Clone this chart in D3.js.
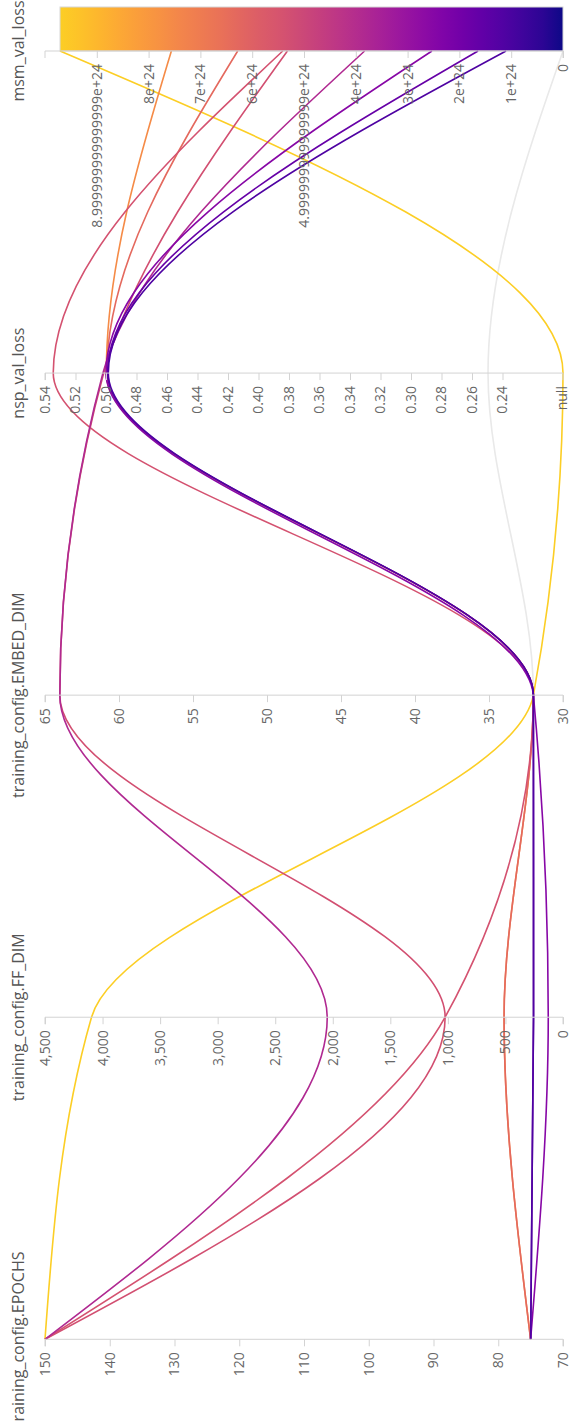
<!DOCTYPE html>
<html>
<head>
<meta charset="utf-8">
<script src="https://cdn.jsdelivr.net/npm/d3@7"></script>
<style>
  body { margin: 0; background: #fff; }
  svg { display: block; }
  text { font-family: "Open Sans", sans-serif; }
</style>
</head>
<body>
<svg id="chart" width="569" height="1421"></svg>
<script>
// Parallel-coordinates view of a hyper-parameter sweep (drawn sideways).
const dimensions = [
  "training_config.EPOCHS",
  "training_config.FF_DIM",
  "training_config.EMBED_DIM",
  "nsp_val_loss",
  "msm_val_loss"
];

// One entry per run, same order in every array (null = metric missing).
const epochs   = [75, 150, 75, 75, 150, 150, 150, 75, 75, 75];
const ffDim    = [256, 4096, 512, 512, 1024, 1024, 2048, 128, 256, 256];
const embedDim = [32, 32, 32, 32, 32, 64, 64, 32, 32, 32];
const nspLoss  = [0.2495, null, 0.4998, 0.4995, 0.5346, 0.5015, 0.5020, 0.5000, 0.4990, 0.4985];
const msmLoss  = [null, 9.71e24, 7.56e24, 6.28e24, 5.41e24, 5.32e24, 3.83e24, 2.53e24, 1.64e24, 1.10e24];

// Upper end of the msm_val_loss axis
const msmAxisMax = 1e25;

const columns = [epochs, ffDim, embedDim, nspLoss, msmLoss];

const frameW = 1421;                  // chart frame length before rotation
const axisTop = 45, axisBottom = 563; // value-axis extent
const nullPos = axisBottom;           // missing values sit at the bottom end

const svg = d3.select("#chart");
const g = svg.append("g").attr("transform", `translate(0,${frameW}) rotate(-90)`);

const x = d3.scalePoint().domain(dimensions).range([81.7, 1370]);

const nonNull = a => a.filter(v => v != null);

const scales = {
  "training_config.EPOCHS": d3.scaleLinear().domain(d3.extent(epochs)).nice().range([axisBottom, axisTop]),
  "training_config.FF_DIM": d3.scaleLinear().domain(d3.extent(ffDim)).nice().range([axisBottom, axisTop]),
  "training_config.EMBED_DIM": d3.scaleLinear().domain(d3.extent(embedDim)).nice().range([axisBottom, axisTop]),
  "nsp_val_loss": d3.scaleLinear().domain(d3.extent(nonNull(nspLoss))).nice().range([502.5, axisTop]),
  "msm_val_loss": d3.scaleLinear().domain([0, msmAxisMax]).range([axisBottom, axisTop])
};

const msmMax = d3.max(nonNull(msmLoss));
const colorT = t => d3.interpolatePlasma(0.9 * Math.pow(t, 0.88));
const color = d3.scaleSequential(colorT).domain([0, msmMax]);

const posOf = (dim, v) => v == null ? nullPos : scales[dim](v);

// Colour bar beside the last axis
const defs = svg.append("defs");
const grad = defs.append("linearGradient")
  .attr("id", "msmGrad").attr("x1", 0).attr("y1", 0).attr("x2", 0).attr("y2", 1);
d3.range(0, 1.0001, 0.04).forEach(s => {
  grad.append("stop").attr("offset", s).attr("stop-color", colorT(1 - s));
});
const msmScale = scales["msm_val_loss"];
g.append("rect")
  .attr("x", x("msm_val_loss"))
  .attr("width", 44)
  .attr("y", msmScale(msmMax))
  .attr("height", msmScale(0) - msmScale(msmMax))
  .attr("fill", "url(#msmGrad)")
  .attr("stroke", "#d6d6d6")
  .attr("stroke-width", 1);

// Run lines
const line = d3.line()
  .curve(d3.curveMonotoneX)
  .x(d => x(d.dim))
  .y(d => posOf(d.dim, d.v));

const runs = d3.range(epochs.length).map(i => ({
  msm: msmLoss[i],
  pts: dimensions.map((dim, k) => ({ dim, v: columns[k][i] }))
}));

g.append("g").attr("fill", "none")
  .selectAll("path")
  .data(runs)
  .join("path")
  .attr("d", r => line(r.pts))
  .attr("stroke", r => r.msm == null ? "#e9e9e9" : color(r.msm))
  .attr("stroke-width", 1.6);

// Axes
const tickLen = 7;
dimensions.forEach(dim => {
  const s = scales[dim];
  const axis = d3.axisLeft(s).tickSize(tickLen).tickPadding(6);
  if (dim === "msm_val_loss") {
    axis.tickValues(s.ticks().filter(t => s(t) > axisTop + 0.5)).tickFormat(d => String(d));
  }
  const ag = g.append("g").attr("transform", `translate(${x(dim)},0)`).call(axis);
  ag.select(".domain")
    .attr("d", `M${-tickLen},${axisTop}H0V${axisBottom}H${-tickLen}`)
    .attr("stroke", "#d3d3d3");
  ag.selectAll(".tick line").attr("stroke", "#d3d3d3");
  if (dim === "nsp_val_loss") {
    const nt = ag.append("g").attr("class", "tick").attr("transform", `translate(0,${nullPos})`);
    nt.append("text").attr("x", -(tickLen + 6)).attr("dy", "0.32em")
      .attr("text-anchor", "end").text("null");
  }
  ag.selectAll("text")
    .attr("fill", "#666")
    .style("font-size", "14px")
    .style("font-family", "'Open Sans', sans-serif");

  g.append("text")
    .attr("x", x(dim))
    .attr("y", 24)
    .attr("text-anchor", "middle")
    .attr("fill", "#555")
    .style("font-size", "16px")
    .text(dim);
});
</script>
</body>
</html>
